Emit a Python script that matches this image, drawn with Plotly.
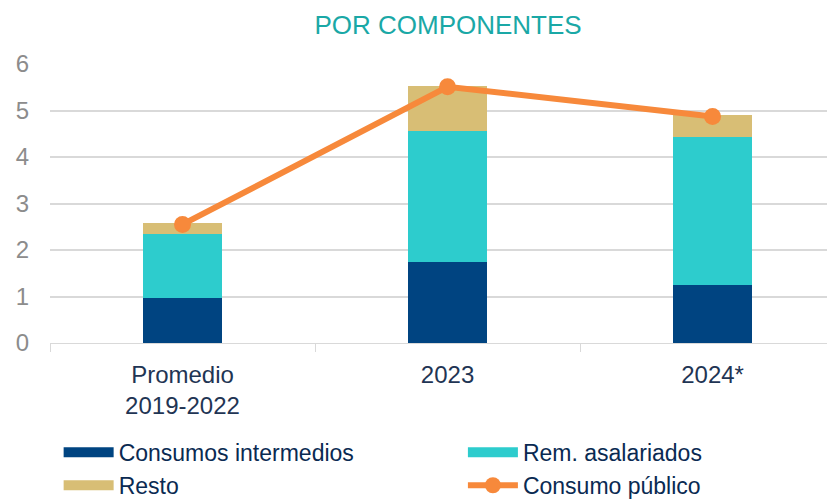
import plotly.graph_objects as go

# Datos
categorias = ["Promedio<br>2019-2022", "2023", "2024*"]
consumos_intermedios = [0.97, 1.74, 1.24]
rem_asalariados = [1.37, 2.81, 3.18]
resto = [0.24, 0.98, 0.48]
consumo_publico = [2.55, 5.51, 4.87]

fuente = "Liberation Sans, Arial, sans-serif"
colores = {"Consumos intermedios": "#004481", "Rem. asalariados": "#2DCCCD", "Resto": "#D8BE75"}
naranja = "#F7893B"

fig = go.Figure()

for nombre, valores in [("Consumos intermedios", consumos_intermedios),
                        ("Rem. asalariados", rem_asalariados),
                        ("Resto", resto)]:
    fig.add_trace(go.Bar(x=categorias, y=valores, name=nombre, showlegend=False,
                         marker=dict(color=colores[nombre], line=dict(width=0)), width=0.295))

fig.add_trace(go.Scatter(x=categorias, y=consumo_publico, name="Consumo público",
                         mode="lines+markers", showlegend=False,
                         line=dict(color=naranja, width=6),
                         marker=dict(color=naranja, size=17)))

# entradas de leyenda (rectángulos anchos como en el original), en dos columnas
for nombre, leyenda in [("Consumos intermedios", "legend"), ("Resto", "legend"),
                        ("Rem. asalariados", "legend2")]:
    fig.add_trace(go.Scatter(x=[None], y=[None], name=nombre, mode="lines", legend=leyenda,
                             line=dict(color=colores[nombre], width=13)))
fig.add_trace(go.Scatter(x=[None], y=[None], name="Consumo público", mode="lines+markers",
                         legend="legend2",
                         line=dict(color=naranja, width=6), marker=dict(color=naranja, size=17)))

estilo_leyenda = dict(orientation="v", xanchor="left", y=-0.315, yanchor="top",
                      traceorder="normal", tracegroupgap=0, itemwidth=50,
                      font=dict(family=fuente, size=23, color="#0A2A52"))

# la página añade 8 px de margen al cuerpo: se compensa en los márgenes
fig.update_layout(
    barmode="stack",
    width=835, height=500,
    margin=dict(l=42, r=8, t=56, b=165, autoexpand=False),
    paper_bgcolor="white", plot_bgcolor="white",
    font=dict(family=fuente, size=20, color="#595959"),
    title=dict(text="POR COMPONENTES", x=0.527, xanchor="center", y=0.967, yanchor="middle",
               font=dict(family=fuente, size=26, color="#1AA8A6")),
    legend=dict(x=0.011, **estilo_leyenda),
    legend2=dict(x=0.526, **estilo_leyenda),
)

fig.update_xaxes(
    range=[-0.5, 2.462], automargin=False,
    showline=True, linecolor="#D9D9D9", linewidth=1,
    ticks="outside", tickson="boundaries", ticklen=8, tickcolor="#D9D9D9",
    tickfont=dict(size=24, color="#1F3554"),
    ticklabelstandoff=10,
    showgrid=False,
)
fig.update_yaxes(
    range=[0, 6], dtick=1, automargin=False,
    showgrid=True, gridcolor="#D9D9D9", gridwidth=1.5,
    zeroline=False, showline=False,
    tickfont=dict(size=24, color="#8C8C8C"),
    ticklabelstandoff=20,
)

fig.write_html("out.html")
